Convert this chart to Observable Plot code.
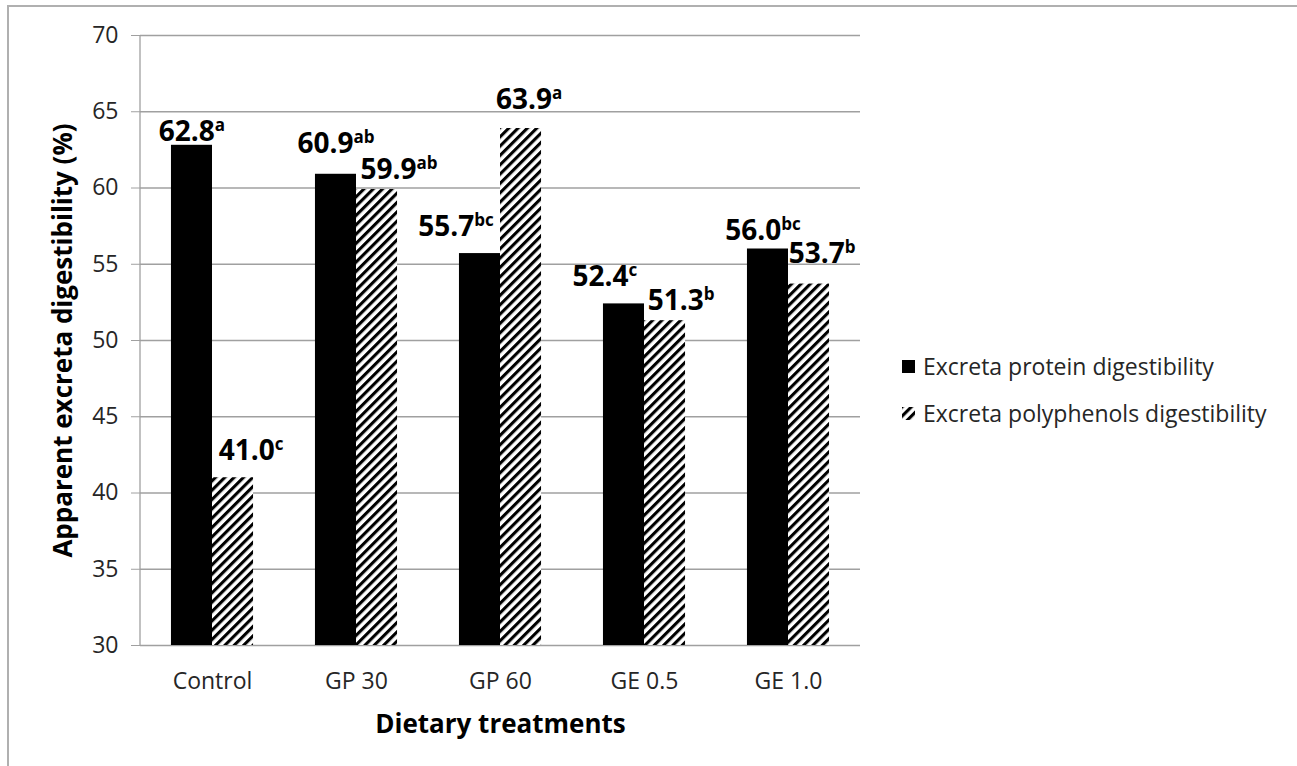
<!DOCTYPE html>
<html><head><meta charset="utf-8">
<script src="https://cdn.jsdelivr.net/npm/d3@7"></script>
<script src="https://cdn.jsdelivr.net/npm/@observablehq/plot@0.6"></script>
<style>
html,body{margin:0;padding:0;background:#fff;}
#chart{position:relative;width:1297px;height:766px;overflow:hidden;}
</style></head><body><div id="chart"></div>
<script>
// ---- data ----
const categories = ["Control", "GP 30", "GP 60", "GE 0.5", "GE 1.0"];
const seriesNames = ["Excreta protein digestibility", "Excreta polyphenols digestibility"];
const proteinValues = [62.8, 60.9, 55.7, 52.4, 56.0];
const polyphenolValues = [41.0, 59.9, 63.9, 51.3, 53.7];
const proteinLetters = ["a", "ab", "bc", "c", "bc"];
const polyphenolLetters = ["c", "ab", "a", "b", "b"];
const yTicks = [30, 35, 40, 45, 50, 55, 60, 65, 70];
const yLabel = "Apparent excreta digestibility (%)";
const xLabel = "Dietary treatments";

// ---- layout ----
const W = 1297, H = 766, mL = 140, mR = 437, mT = 35, mB = 121;
const padInner = 0.43;
const step = (W - mL - mR) / categories.length;
const half = step * (1 - padInner) / 2;
// label placement tweaks (px): horizontal nudge from bar centre, gap above bar top
const proteinNudge = [0, 0, -24, -19, -5];
const polyNudge = [18, 22, 8, 16, 13];
const proteinGap = [4, 21, 18, 18, 9];
const polyGap = [18, 11, 20, 11, 21];

const protein = categories.map((c, i) => ({category: c, value: proteinValues[i], letter: proteinLetters[i]}));
const poly = categories.map((c, i) => ({category: c, value: polyphenolValues[i], letter: polyphenolLetters[i]}));

const labelOpts = {x: "category", y: "value", text: d => d.value.toFixed(1) + "|" + d.letter,
  lineAnchor: "bottom", textAnchor: "middle", fontSize: 28, fontWeight: "bold", fill: "black"};
const labelMarks = [
  ...protein.map((d, i) => Plot.text([d], {...labelOpts, dx: -half / 2 + proteinNudge[i], dy: -proteinGap[i]})),
  ...poly.map((d, i) => Plot.text([d], {...labelOpts, dx: half / 2 + polyNudge[i], dy: -polyGap[i]}))
];

const gridColor = "#a0a0a0";

const svg = Plot.plot({
  width: W, height: H,
  marginLeft: mL, marginRight: mR, marginTop: mT, marginBottom: mB,
  style: {fontFamily: "'Open Sans', sans-serif", color: "#262626", background: "white", overflow: "visible"},
  x: {type: "band", domain: categories, paddingInner: padInner, paddingOuter: padInner / 2, round: false, label: null},
  y: {domain: [30, 70], label: null},
  marks: [
    Plot.gridY({ticks: yTicks, stroke: gridColor, strokeOpacity: 1, strokeWidth: 1.3}),
    Plot.barY(protein, {x: "category", y1: 30, y2: "value", fill: "black", insetRight: half, insetLeft: 0}),
    Plot.barY(poly, {x: "category", y1: 30, y2: "value", fill: "url(#hatch)", insetLeft: half, insetRight: 0}),
    Plot.axisY({ticks: yTicks, tickSize: 9, tickPadding: 13, fontSize: 23, stroke: gridColor, label: null}),
    Plot.axisX({tickSize: 0, tickPadding: 27, fontSize: 23, label: null}),
    ...labelMarks,
    Plot.text([yLabel], {text: d => d, frameAnchor: "left", rotate: -90, dx: -69, lineAnchor: "bottom",
      textAnchor: "middle", fontSize: 26, fontWeight: "bold", fill: "black"}),
    Plot.text([xLabel], {text: d => d, frameAnchor: "bottom", dy: 87, lineAnchor: "bottom",
      textAnchor: "middle", fontSize: 26, fontWeight: "bold", fill: "black"})
  ]
});

const s = d3.select(svg);
// hatch pattern
const defs = s.insert("defs", ":first-child");
const pat = defs.append("pattern").attr("id", "hatch").attr("patternUnits", "userSpaceOnUse")
  .attr("width", 6.6).attr("height", 6.6).attr("patternTransform", "rotate(45)");
pat.append("rect").attr("width", 6.6).attr("height", 6.6).attr("fill", "white");
pat.append("rect").attr("width", 3.1).attr("height", 6.6).attr("fill", "black");

// superscript letters
s.selectAll("text").each(function () {
  const t = this.textContent;
  if (t.includes("|")) {
    const [num, letter] = t.split("|");
    this.textContent = num;
    d3.select(this).append("tspan").attr("font-size", 17).attr("dy", -10).text(letter);
  }
});

// left axis line
const xr = svg.scale("x").range;
s.append("line").attr("x1", xr[0]).attr("x2", xr[0]).attr("y1", mT).attr("y2", H - mB)
  .attr("stroke", gridColor).attr("stroke-width", 1.3);

// legend
const leg = s.append("g").attr("font-family", "'Open Sans', sans-serif").attr("font-size", 23)
  .attr("fill", "#262626").attr("text-anchor", "start");
const legFills = ["black", "url(#hatch)"];
seriesNames.forEach((name, i) => {
  const y0 = 360 + i * 47;
  leg.append("rect").attr("x", 902).attr("y", y0).attr("width", 13).attr("height", 13).attr("fill", legFills[i]);
  leg.append("text").attr("x", 923).attr("y", y0 + 15).attr("text-anchor", "start").text(name);
});

// outer border
s.append("path").attr("d", `M8,${H}V6H${W}`).attr("fill", "none").attr("stroke", "#b0b0b0").attr("stroke-width", 2);

document.getElementById("chart").appendChild(svg);
</script>
</body></html>
